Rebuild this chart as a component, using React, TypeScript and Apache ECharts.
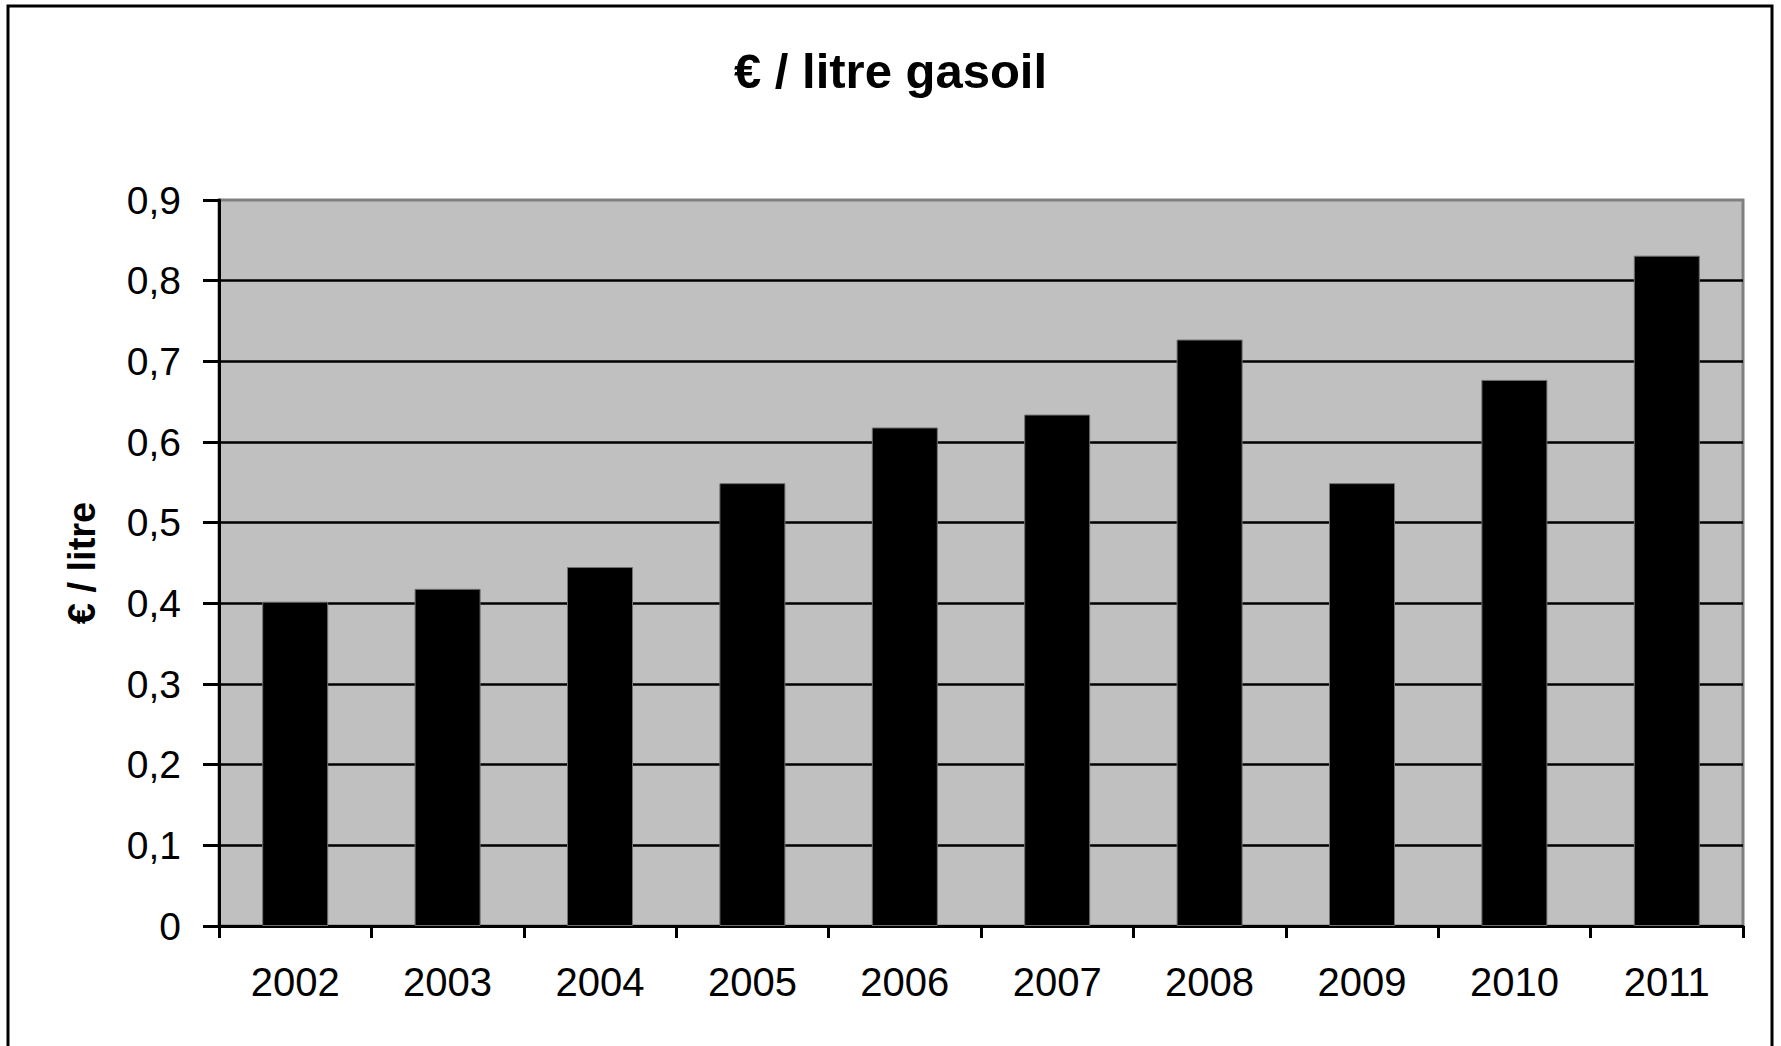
import React, { useEffect, useRef } from "react";
import * as echarts from "echarts";

const years = ["2002", "2003", "2004", "2005", "2006", "2007", "2008", "2009", "2010", "2011"];
const pricePerLitre = [0.402, 0.418, 0.445, 0.549, 0.618, 0.634, 0.727, 0.549, 0.677, 0.831];
const titleText = "€ / litre gasoil";
const yAxisName = "€ / litre";

const FONT = "'Liberation Sans', Arial, Helvetica, sans-serif";

export default function App() {
  const ref = useRef<HTMLDivElement>(null);

  useEffect(() => {
    document.body.style.margin = "0";
    if (!ref.current) return;
    const chart = echarts.init(ref.current, null, { renderer: "svg" });
    chart.setOption({
      animation: false,
      backgroundColor: "#ffffff",
      title: {
        text: titleText,
        left: "center",
        top: 41,
        textStyle: { fontFamily: FONT, fontSize: 49, fontWeight: "bold", color: "#000" },
      },
      graphic: [
        {
          type: "rect",
          shape: { x: 8, y: 6, width: 1764, height: 1080 },
          style: { fill: "none", stroke: "#000", lineWidth: 3 },
          z: 100,
        },
      ],
      grid: {
        left: 219,
        right: 38,
        top: 200,
        bottom: 120,
        show: true,
        backgroundColor: "#C0C0C0",
        borderColor: "#808080",
        borderWidth: 3,
      },
      xAxis: {
        type: "category",
        data: years,
        boundaryGap: true,
        axisLine: { show: true, lineStyle: { color: "#000", width: 3 } },
        axisTick: { show: true, alignWithLabel: false, length: 12, lineStyle: { color: "#000", width: 3 } },
        axisLabel: { fontFamily: FONT, fontSize: 40, color: "#000", margin: 36 },
        splitLine: { show: false },
      },
      yAxis: {
        type: "value",
        min: 0,
        max: 0.9,
        interval: 0.1,
        name: yAxisName,
        nameLocation: "middle",
        nameRotate: 90,
        nameGap: 118,
        nameTextStyle: { fontFamily: FONT, fontSize: 38, fontWeight: "bold", color: "#000" },
        axisLine: { show: true, lineStyle: { color: "#000", width: 3 } },
        axisTick: { show: true, length: 16, lineStyle: { color: "#000", width: 3 } },
        axisLabel: {
          fontFamily: FONT,
          fontSize: 39,
          color: "#000",
          margin: 38,
          formatter: (v: number) => (v === 0 ? "0" : v.toFixed(1).replace(".", ",")),
        },
        splitLine: { show: true, showMaxLine: false, lineStyle: { color: "#000", width: 2.5 } },
      },
      series: [
        {
          type: "bar",
          data: pricePerLitre,
          barWidth: 66,
          itemStyle: { color: "#000", borderColor: "#707070", borderWidth: 1 },
        },
      ],
    });
    return () => chart.dispose();
  }, []);

  return (
    <div
      ref={ref}
      style={{ position: "fixed", left: 0, top: 0, width: 1781, height: 1046 }}
    />
  );
}
